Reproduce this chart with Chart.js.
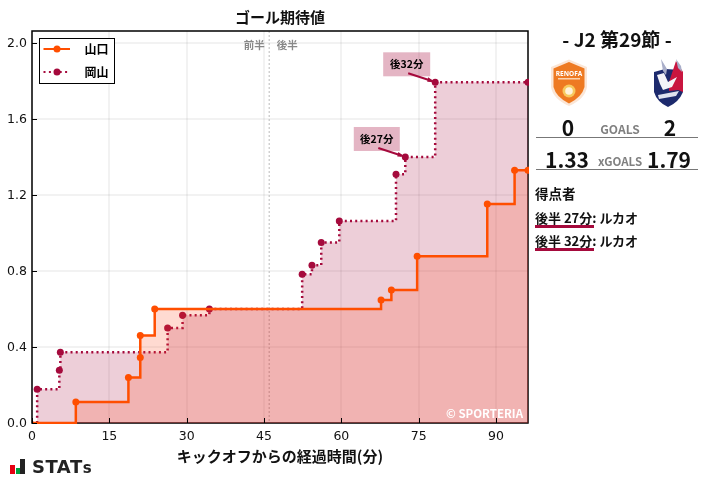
<!DOCTYPE html>
<html lang="ja">
<head>
<meta charset="utf-8">
<script src="https://cdn.jsdelivr.net/npm/chart.js@4"></script>
<style>
    html, body { margin: 0; padding: 0; background: #fff; overflow: hidden; }
    #wrap { position: relative; width: 707px; height: 479px; font-family: "Noto Sans CJK JP", "Noto Sans", sans-serif; color: #111; }
    #xgChart { position: absolute; left: 0; top: 0; }
    .t { position: absolute; white-space: nowrap; font-weight: 700; line-height: 1; }
    .c { transform: translateX(-50%); }
    .rule { position: absolute; left: 536px; width: 162px; height: 1px; background: #777; }
    .scorer { position: absolute; left: 535px; height: 3px; width: 59px; background: #a50a3c; }
    svg { position: absolute; }
</style>
</head>
<body>
<div id="wrap">
    <canvas id="xgChart" width="707" height="479"></canvas>

    <div class="t c" style="left:617px;top:29px;font-size:19px;">- J2 第29節 -</div>

    <svg style="left:549px;top:59px" width="40" height="48" viewBox="0 0 40 48">
        <path d="M20 0.5 L38 8 L38 28 Q36 40 20 47 Q4 40 2 28 L2 8 Z" fill="#fbe6d6"/>
        <path d="M20 3 L35.5 9.5 L35.5 28 Q33 38 20 44.5 Q7 38 4.5 28 L4.5 9.5 Z" fill="#ee7a22"/>
        <text x="20" y="17" text-anchor="middle" font-size="6.5" font-weight="700" fill="#fff" font-family="Noto Sans">RENOFA</text>
        <rect x="9" y="19" width="22" height="1.5" fill="#fbd3b0"/>
        <circle cx="20" cy="32" r="6.5" fill="#f7c95e"/>
        <circle cx="20" cy="32" r="3.8" fill="#fff3dc"/>
    </svg>
    <svg style="left:652px;top:58px" width="33" height="50" viewBox="0 0 33 50">
        <path d="M2 14 L13 11 L30 12 L31 34 Q27 44 16 49 Q5 44 2 34 Z" fill="#1d2a6d"/>
        <path d="M17 24 L24 3 L31 14 L31 34 L26 32 L17 33 Z" fill="#c9153f"/>
        <path d="M9 1 L15 11 L14 17 L11 13 Z M24 1 L29 8 L30 14 L26 10 Z" fill="#a9aec9"/>
        <path d="M5 17 L12 15 L16 24 L25 19 L20 29 L11 32 L8 26 Z" fill="#f4f4f8"/>
        <path d="M6 37 L27 33 L24 38 L7 41 Z" fill="#dfe2ef"/>
    </svg>

    <div class="t c" style="left:568px;top:117px;font-size:21px;">0</div>
    <div class="t c" style="left:620px;top:123px;font-size:12px;color:#808080;">GOALS</div>
    <div class="t c" style="left:670px;top:117px;font-size:21px;">2</div>
    <div class="rule" style="top:137px"></div>

    <div class="t c" style="left:567px;top:149px;font-size:21px;">1.33</div>
    <div class="t c" style="left:620px;top:156px;font-size:11.5px;color:#808080;">xGOALS</div>
    <div class="t c" style="left:669px;top:149px;font-size:21px;">1.79</div>
    <div class="rule" style="top:169px"></div>

    <div class="t" style="left:535px;top:187px;font-size:13.5px;">得点者</div>
    <div class="t" style="left:535px;top:211px;font-size:13px;">後半 27分: ルカオ</div>
    <div class="scorer" style="top:225px"></div>
    <div class="t" style="left:535px;top:234px;font-size:13px;">後半 32分: ルカオ</div>
    <div class="scorer" style="top:248px"></div>

    <svg style="left:10px;top:459px" width="16" height="16" viewBox="0 0 16 16">
        <rect x="0" y="6" width="5" height="9" fill="#e60012"/>
        <rect x="6" y="9" width="4" height="6" fill="#00a040"/>
        <rect x="10" y="0" width="5" height="15" fill="#222"/>
    </svg>
    <div class="t" style="left:32px;top:458px;font-size:18px;font-family:'DejaVu Sans';color:#222;letter-spacing:.5px;">STAT<span style="font-size:15px">s</span></div>
</div>

<script>
const yamaguchiMinutes = [0, 8.5, 18.7, 21.0, 21.0, 23.8, 67.7, 69.7, 74.7, 88.3, 93.6, 96.2];
const yamaguchiXg = [0, 0.11, 0.24, 0.345, 0.46, 0.60, 0.647, 0.70, 0.877, 1.152, 1.33, 1.33];
const okayamaMinutes = [0, 1.0, 5.3, 5.5, 26.3, 29.2, 34.4, 52.4, 54.3, 56.1, 59.6, 70.6, 72.4, 78.2, 96.2];
const okayamaXg = [0, 0.177, 0.277, 0.372, 0.50, 0.567, 0.60, 0.783, 0.83, 0.95, 1.063, 1.309, 1.40, 1.793, 1.793];
const teamNames = ['山口', '岡山'];
const goalLabels = ['後27分', '後32分'];
const goalMinutes = [72.4, 78.2];
const goalXg = [1.40, 1.793];
const halfTimeMinute = 46;

const ORANGE = '#ff4e00';
const CRIMSON = '#a50a3c';
const JP_FONT = '"Noto Sans CJK JP", "Noto Sans", sans-serif';

function toPoints(xs, ys) {
    return xs.map(function (x, i) { return { x: x, y: ys[i] }; });
}

// 最初の点 (0分) だけマーカーなし
function markerSizes(xs) {
    return xs.map(function (x, i) { return i === 0 ? 0 : 3.5; });
}

const framePlugin = {
    id: 'frame',
    beforeDatasetsDraw: function (chart) {
        const ctx = chart.ctx, a = chart.chartArea, xs = chart.scales.x;
        ctx.save();
        // ハーフタイムの線
        const hx = xs.getPixelForValue(halfTimeMinute);
        ctx.strokeStyle = '#bbb';
        ctx.lineWidth = 1;
        ctx.setLineDash([2, 2]);
        ctx.beginPath();
        ctx.moveTo(hx, a.top);
        ctx.lineTo(hx, a.bottom);
        ctx.stroke();
        ctx.setLineDash([]);
        ctx.fillStyle = '#888';
        ctx.font = '700 10.5px ' + JP_FONT;
        ctx.textAlign = 'center';
        ctx.textBaseline = 'middle';
        ctx.fillText('前半', hx - 15, 45);
        ctx.fillText('後半', hx + 18, 45);
        // 枠
        ctx.strokeStyle = '#000';
        ctx.lineWidth = 1.5;
        ctx.strokeRect(a.left, a.top, a.right - a.left, a.bottom - a.top);
        ctx.restore();
    },
    afterDatasetsDraw: function (chart) {
        const ctx = chart.ctx, a = chart.chartArea, xs = chart.scales.x, ys = chart.scales.y;
        ctx.save();

        // 内向きの目盛り
        ctx.strokeStyle = '#000';
        ctx.lineWidth = 1;
        ctx.beginPath();
        xs.ticks.forEach(function (t) {
            const p = Math.round(xs.getPixelForValue(t.value)) + 0.5;
            ctx.moveTo(p, a.bottom);
            ctx.lineTo(p, a.bottom - 5);
        });
        ys.ticks.forEach(function (t) {
            const p = Math.round(ys.getPixelForValue(t.value)) + 0.5;
            ctx.moveTo(a.left, p);
            ctx.lineTo(a.left + 5, p);
        });
        ctx.stroke();

        // ゴールの注釈
        goalLabels.forEach(function (label, i) {
            const px = xs.getPixelForValue(goalMinutes[i]);
            const py = ys.getPixelForValue(goalXg[i]);
            const w = i === 0 ? 46 : 47;
            ctx.fillStyle = 'rgba(165,10,60,0.3)';
            ctx.fillRect(px - 28.5 - w / 2, py - 30, w, 24);
            ctx.strokeStyle = CRIMSON;
            ctx.lineWidth = 2;
            ctx.beginPath();
            ctx.moveTo(px - 27, py - 9);
            ctx.lineTo(px - 4, py - 1.5);
            ctx.stroke();
            ctx.fillStyle = CRIMSON;
            ctx.beginPath();
            ctx.moveTo(px, py);
            ctx.lineTo(px - 7, py - 5);
            ctx.lineTo(px - 8, py - 0.5);
            ctx.closePath();
            ctx.fill();
            ctx.fillStyle = '#000';
            ctx.font = '700 10.5px ' + JP_FONT;
            ctx.textAlign = 'center';
            ctx.textBaseline = 'middle';
            ctx.fillText(label, px - 28.5, py - 18);
        });

        // 凡例
        ctx.fillStyle = '#fff';
        ctx.fillRect(39.5, 38.5, 75, 45);
        ctx.strokeStyle = '#000';
        ctx.lineWidth = 1;
        ctx.strokeRect(39.5, 38.5, 75, 45);
        [ORANGE, CRIMSON].forEach(function (color, i) {
            const y = i === 0 ? 49 : 72;
            ctx.strokeStyle = color;
            ctx.lineWidth = 2;
            ctx.setLineDash(i === 0 ? [] : [2, 3.4]);
            ctx.beginPath();
            ctx.moveTo(43.5, y);
            ctx.lineTo(70, y);
            ctx.stroke();
            ctx.setLineDash([]);
            ctx.fillStyle = color;
            ctx.beginPath();
            ctx.arc(57, y, 3.5, 0, Math.PI * 2);
            ctx.fill();
            ctx.fillStyle = '#000';
            ctx.font = '700 12px ' + JP_FONT;
            ctx.textAlign = 'right';
            ctx.textBaseline = 'middle';
            ctx.fillText(teamNames[i], 108.5, y + 0.5);
        });

        // クレジット
        ctx.fillStyle = '#fff';
        ctx.font = '700 11.5px ' + JP_FONT;
        ctx.textAlign = 'right';
        ctx.textBaseline = 'middle';
        ctx.fillText('© SPORTERIA', a.right - 5, 413.5);
        ctx.restore();
    }
};

new Chart(document.getElementById('xgChart').getContext('2d'), {
    type: 'line',
    data: {
        datasets: [{
            label: teamNames[0],
            data: toPoints(yamaguchiMinutes, yamaguchiXg),
            stepped: 'before',
            fill: 'origin',
            borderColor: ORANGE,
            backgroundColor: 'rgba(255,70,25,0.2)',
            pointBackgroundColor: ORANGE,
            pointBorderWidth: 0,
            pointRadius: markerSizes(yamaguchiMinutes),
            borderWidth: 2.5,
            clip: 1
        }, {
            label: teamNames[1],
            data: toPoints(okayamaMinutes, okayamaXg),
            stepped: 'before',
            fill: 'origin',
            borderColor: CRIMSON,
            backgroundColor: 'rgba(165,10,60,0.2)',
            pointBackgroundColor: CRIMSON,
            pointBorderWidth: 0,
            pointRadius: markerSizes(okayamaMinutes),
            borderWidth: 2.5,
            borderDash: [2, 3.2],
            clip: 1
        }]
    },
    options: {
        responsive: false,
        animation: false,
        layout: { padding: { left: 0, right: 179, top: 0, bottom: 0 } },
        plugins: {
            legend: { display: false },
            tooltip: { enabled: false },
            title: {
                display: true,
                text: 'ゴール期待値',
                fullSize: false,
                color: '#111',
                font: { family: JP_FONT, size: 15, weight: '700' },
                padding: { top: 8, bottom: 5 }
            }
        },
        scales: {
            x: {
                type: 'linear',
                min: 0,
                max: 96.2,
                border: { display: false },
                grid: { color: 'rgba(0,0,0,0.05)', lineWidth: 2, tickLength: 0 },
                ticks: {
                    stepSize: 15,
                    includeBounds: false,
                    maxRotation: 0,
                    padding: 6,
                    color: '#111',
                    font: { family: 'DejaVu Sans', size: 12.5 }
                },
                title: {
                    display: true,
                    text: 'キックオフからの経過時間(分)',
                    color: '#111',
                    font: { family: JP_FONT, size: 15, weight: '700' },
                    padding: { top: 4, bottom: 14 }
                },
                afterFit: function (s) { s.height = 56; }
            },
            y: {
                min: 0,
                max: 2.063,
                border: { display: false },
                grid: { color: 'rgba(0,0,0,0.05)', lineWidth: 2, tickLength: 0 },
                ticks: {
                    stepSize: 0.4,
                    includeBounds: false,
                    padding: 5,
                    labelOffset: 1,
                    color: '#111',
                    font: { family: 'DejaVu Sans', size: 12.5 },
                    callback: function (v) { return v.toFixed(1); }
                },
                afterFit: function (s) { s.width = 32; }
            }
        }
    },
    plugins: [framePlugin]
});
</script>
</body>
</html>
